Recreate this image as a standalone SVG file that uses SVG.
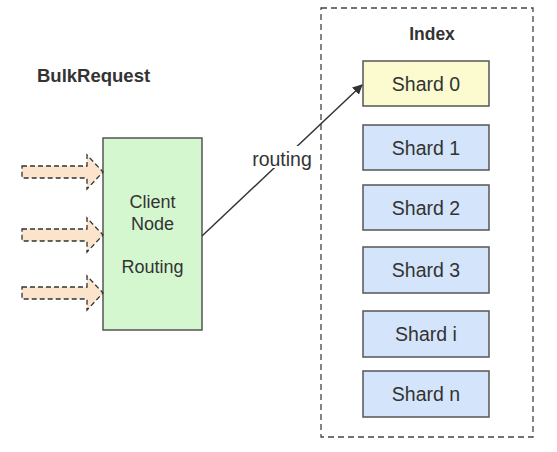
<svg xmlns="http://www.w3.org/2000/svg" width="557" height="452" viewBox="0 0 557 452">
<style>
text{font-family:"Liberation Sans",Arial,sans-serif;fill:#333;}
.lbl{font-size:19.5px;text-anchor:middle;}
.shard{stroke:#555;stroke-width:1.5;fill:#d4e5fb;}
.fat{fill:#fbe3cc;stroke:#333;stroke-width:1.3;stroke-dasharray:5 3;}
</style>
<defs>
<marker id="ah" viewBox="0 0 10 10" refX="9" refY="5" markerWidth="10" markerHeight="10" markerUnits="userSpaceOnUse" orient="auto">
<path d="M0,0 L10,5 L0,10 z" fill="#333"/>
</marker>
</defs>
<rect width="557" height="452" fill="#fff"/>
<text x="37" y="82" style="font-size:18.5px;font-weight:bold">BulkRequest</text>
<g id="index">
<rect x="321" y="8" width="212" height="429" fill="none" stroke="#444" stroke-width="1.3" stroke-dasharray="6 4"/>
<text x="432" y="40" style="font-size:17.5px;font-weight:bold;text-anchor:middle">Index</text>
</g>
<g id="shard0"><rect x="363" y="61" width="126" height="45" class="shard" style="fill:#fcfbd0"/><text x="426" y="91" class="lbl">Shard 0</text></g>
<g id="shard1"><rect x="363" y="125" width="126" height="45" class="shard"/><text x="426" y="155" class="lbl">Shard 1</text></g>
<g id="shard2"><rect x="363" y="185" width="126" height="45" class="shard"/><text x="426" y="215" class="lbl">Shard 2</text></g>
<g id="shard3"><rect x="363" y="247" width="126" height="46" class="shard"/><text x="426" y="277" class="lbl">Shard 3</text></g>
<g id="shardi"><rect x="363" y="311" width="126" height="46" class="shard"/><text x="426" y="341" class="lbl">Shard i</text></g>
<g id="shardn"><rect x="363" y="371" width="126" height="46" class="shard"/><text x="426" y="401" class="lbl">Shard n</text></g>
<g id="client">
<rect x="103" y="138" width="99" height="192" fill="#d5f7d0" stroke="#555" stroke-width="1.5"/>
<text x="152.5" y="208" class="lbl" style="font-size:18px">Client</text>
<text x="152.5" y="230" class="lbl" style="font-size:18px">Node</text>
<text x="152.5" y="273" class="lbl" style="font-size:18px">Routing</text>
</g>
<g id="connectors">
<path class="fat" d="M22,166 H87 V155 L103,172 L87,189 V178 H22 Z"/>
<path class="fat" d="M22,229 H87 V218 L103,235 L87,252 V241 H22 Z"/>
<path class="fat" d="M22,287 H87 V276 L103,293 L87,310 V299 H22 Z"/>
<line x1="202" y1="236" x2="362" y2="85" stroke="#333" stroke-width="1.5" marker-end="url(#ah)"/>
<rect x="249" y="146" width="66" height="22" fill="#fff"/>
<text x="282" y="166" class="lbl" style="font-size:19.5px">routing</text>
</g>
</svg>
